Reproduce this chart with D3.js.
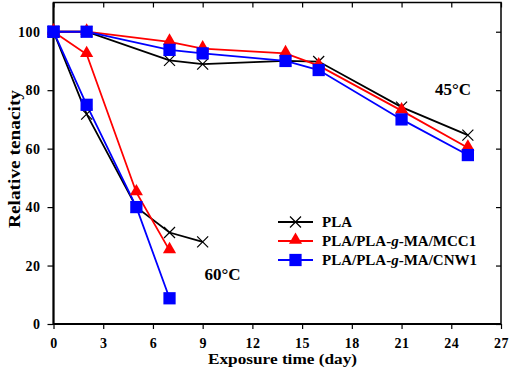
<!DOCTYPE html>
<html><head><meta charset="utf-8">
<script src="https://cdn.jsdelivr.net/npm/d3@7"></script>
<style>body{margin:0;background:#fff}svg{display:block}</style>
</head><body>
<svg id="c" width="510" height="372"></svg>
<script>
const xTicks = [0,3,6,9,12,15,18,21,24,27];
const yTicks = [0,20,40,60,80,100];
const seriesNames = ["PLA","PLA/PLA-g-MA/MCC1","PLA/PLA-g-MA/CNW1"];
const colors = ["#000000","#ff0000","#0000ff"];
const symbols = ["cross","triangle","square"];
// 45°C
const days45 = [0,2,7,9,14,16,21,25];
const pla45  = [100,100,90.2,88.9,90,89.8,74.2,64.6];
const mcc45  = [100,100,96.5,94.2,92.6,88.4,73,60.3];
const cnw45  = [100,100,93.8,92.6,90,86.9,70,57.8];
// 60°C
const pla60days = [0,2,5,7,9];
const pla60  = [100,71.8,40,31.3,28.1];
const mcc60days = [0,2,5,7];
const mcc60  = [100,92.3,45,25.2];
const cnw60days = [0,2,5,7];
const cnw60  = [100,75,40,8.8];
const notes = [{t:"45°C",x:24.1,y:80.3},{t:"60°C",x:10.2,y:16.8}];

const svg = d3.select("#c");
const m = {l:53.5,r:501,t:2.5,b:324};
const x = d3.scaleLinear().domain([0,27]).range([m.l,m.r]);
const y = d3.scaleLinear().domain([0,110]).range([m.b,m.t]);
const font = "'Liberation Serif','Times New Roman',serif";

// frame
svg.append("rect").attr("x",m.l).attr("y",m.t).attr("width",m.r-m.l).attr("height",m.b-m.t)
  .attr("fill","none").attr("stroke","#000").attr("stroke-width",1.5);
svg.append("line").attr("x1",m.l).attr("x2",m.l).attr("y1",m.t).attr("y2",m.b).attr("stroke","#000").attr("stroke-width",2);
svg.append("line").attr("x1",m.l).attr("x2",m.r).attr("y1",m.b).attr("y2",m.b).attr("stroke","#000").attr("stroke-width",2);

const ax = svg.append("g").attr("transform",`translate(0,${m.b})`)
  .call(d3.axisBottom(x).tickValues(xTicks).tickSize(5));
const ay = svg.append("g").attr("transform",`translate(${m.l},0)`)
  .call(d3.axisLeft(y).tickValues(yTicks).tickSize(6).tickPadding(7));
const axT = svg.append("g").attr("transform",`translate(0,${m.t})`)
  .call(d3.axisBottom(x).tickValues(xTicks).tickSize(5).tickFormat(""));
const ayR = svg.append("g").attr("transform",`translate(${m.r},0)`)
  .call(d3.axisLeft(y).tickValues(yTicks).tickSize(5).tickFormat(""));
[ax,ay,axT,ayR].forEach(g=>{
  g.select(".domain").remove();
  g.selectAll(".tick line").attr("stroke","#000").attr("stroke-width",1.2);
  g.selectAll("text").attr("font-family",font).attr("font-weight","bold").attr("font-size",14)
    .attr("letter-spacing",0.5).attr("fill","#000");
});
ax.selectAll("text").attr("dy",null).attr("y",24);

svg.append("text").attr("x",282.5).attr("y",364).attr("text-anchor","middle")
  .attr("font-family",font).attr("font-weight","bold").attr("font-size",15.5)
  .attr("textLength",149).attr("lengthAdjust","spacingAndGlyphs").text("Exposure time (day)");
svg.append("text").attr("transform","translate(19.5,159) rotate(-90)").attr("text-anchor","middle")
  .attr("font-family",font).attr("font-weight","bold").attr("font-size",16)
  .attr("textLength",138).attr("lengthAdjust","spacingAndGlyphs").text("Relative tenacity");

const line = d3.line().x(d=>x(d[0])).y(d=>y(d[1]));
const groups = [
  [days45,pla45,0],[days45,mcc45,1],[days45,cnw45,2],
  [pla60days,pla60,0],[mcc60days,mcc60,1],[cnw60days,cnw60,2]
];
function marker(g,k,cx,cy){
  if(symbols[k]==="cross"){
    const s=5.5;
    g.append("path").attr("d",`M${cx-s},${cy-s}L${cx+s},${cy+s}M${cx-s},${cy+s}L${cx+s},${cy-s}`)
      .attr("stroke",colors[k]).attr("stroke-width",1.2).attr("fill","none");
  } else {
    const sym = symbols[k]==="triangle"? d3.symbolTriangle : d3.symbolSquare;
    const size = symbols[k]==="triangle"? 75 : 150;
    g.append("path").attr("d",d3.symbol().type(sym).size(size)())
      .attr("transform",`translate(${cx},${cy + (symbols[k]==="triangle"?-1:0)})`).attr("fill",colors[k]);
  }
}
groups.forEach(([dx,dy,k])=>{
  const pts = dx.map((d,i)=>[d,dy[i]]);
  svg.append("path").datum(pts).attr("d",line).attr("fill","none").attr("stroke",colors[k]).attr("stroke-width",1.8);
});
groups.forEach(([dx,dy,k])=>{
  const g = svg.append("g");
  dx.forEach((d,i)=>marker(g,k,x(d),y(dy[i])));
});

notes.forEach(n=>svg.append("text").attr("x",x(n.x)).attr("y",y(n.y)).attr("text-anchor","middle")
  .attr("dominant-baseline","central").attr("font-family",font).attr("font-weight","bold").attr("font-size",17).text(n.t));

// legend
const lg = svg.append("g");
seriesNames.forEach((name,i)=>{
  const yy = 222 + i*19;
  lg.append("line").attr("x1",278).attr("x2",313).attr("y1",yy).attr("y2",yy).attr("stroke",colors[i]).attr("stroke-width",1.8);
  marker(lg,i,295.5,yy);
  const t = lg.append("text").attr("x",322).attr("y",yy).attr("dominant-baseline","central")
    .attr("font-family",font).attr("font-weight","bold").attr("font-size",15);
  if(name.includes("-g-")){
    const parts = name.split("-g-");
    t.append("tspan").text(parts[0]+"-");
    t.append("tspan").attr("font-style","italic").text("g");
    t.append("tspan").text("-"+parts[1]);
  } else t.text(name);
});
</script>
</body></html>
